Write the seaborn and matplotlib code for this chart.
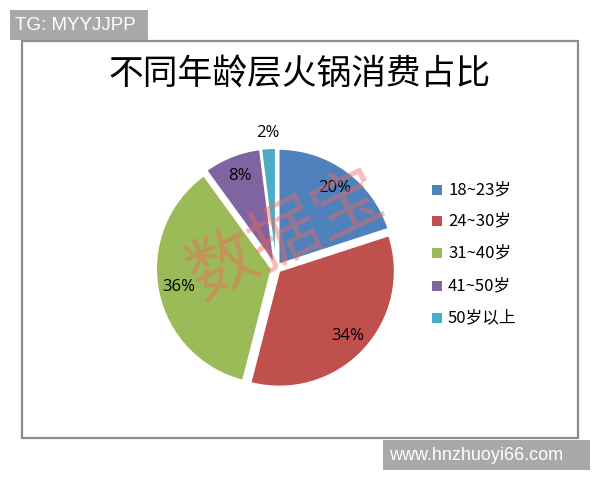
import numpy as np
import matplotlib
matplotlib.use("Agg")
import matplotlib.pyplot as plt
import seaborn as sns
from matplotlib.patches import Rectangle

sns.set_theme(style="white")
plt.rcParams['font.family'] = ['Noto Sans CJK SC', 'DejaVu Sans']

title = "不同年龄层火锅消费占比"
categories = ["18~23岁", "24~30岁", "31~40岁", "41~50岁", "50岁以上"]
values = [20, 34, 36, 8, 2]
colors = ["#4F81BD", "#C0504D", "#9BBB59", "#8064A2", "#4BACC6"]

fig = plt.figure(figsize=(6, 4.8), dpi=100)
fig.patch.set_facecolor("white")

# chart border
fig.patches.append(Rectangle((22/600, 1-438/480), 556/600, 397/480, transform=fig.transFigure,
                             facecolor="none", edgecolor="#8c8c8c", lw=1.6, zorder=0))

# watermark boxes
fig.patches.append(Rectangle((10/600, 1-40/480), 138/600, 30/480, transform=fig.transFigure,
                             facecolor="#a9a9a9", edgecolor="none", zorder=1))
fig.text(15/600, 1-25/480, "TG: MYYJJPP", color="white", fontsize=13.5,
         family=["Liberation Sans", "DejaVu Sans"], va="center", ha="left")
fig.patches.append(Rectangle((383/600, 1-470/480), 207/600, 30/480, transform=fig.transFigure,
                             facecolor="#a9a9a9", edgecolor="none", zorder=1))
fig.text(389/600, 1-455/480, "www.hnzhuoyi66.com", color="white", fontsize=13,
         family=["Liberation Sans", "DejaVu Sans"], va="center", ha="left")

fig.text(300/600, 1-75/480, title, ha="center", va="center", fontsize=25,
         color="black", fontweight="medium")

ax = fig.add_axes([(276-147)/600, (212-147)/480, 294/600, 294/480])
ax.set_zorder(2)
ax.patch.set_alpha(0)
wedges, texts, autotexts = ax.pie(values, colors=colors, startangle=90, counterclock=False,
                                  radius=1.02,
                                  explode=[0.04]*len(values), autopct="%d%%", pctdistance=0.82,
                                  wedgeprops=dict(edgecolor="white", linewidth=1.2),
                                  textprops=dict(fontsize=12, color="black",
                                                 family=["Open Sans", "DejaVu Sans"]))
# move small label outside
w = wedges[-1]
ang = np.deg2rad((w.theta1 + w.theta2) / 2)
autotexts[-1].set_position((1.2*np.cos(ang), 1.2*np.sin(ang)))
ax.set_xlim(-1.3, 1.3)
ax.set_ylim(-1.3, 1.3)
ax.set_aspect("equal")
ax.axis("off")

# legend
ys = [190, 221, 253, 286, 318]
for lab, c, y in zip(categories, colors, ys):
    fig.patches.append(Rectangle((432/600, 1-(y+5)/480), 10/600, 10/480, transform=fig.transFigure,
                                 facecolor=c, edgecolor="none", zorder=3))
    fig.text(448/600, 1-y/480, lab, fontsize=12, va="center", ha="left", color="black")

# watermark text
fig.text(286/600, 1-236/480, "数据宝", fontsize=50, color="#f0685a", alpha=0.45,
         rotation=26, ha="center", va="center", zorder=5)

fig.savefig("out.png", dpi=100)
